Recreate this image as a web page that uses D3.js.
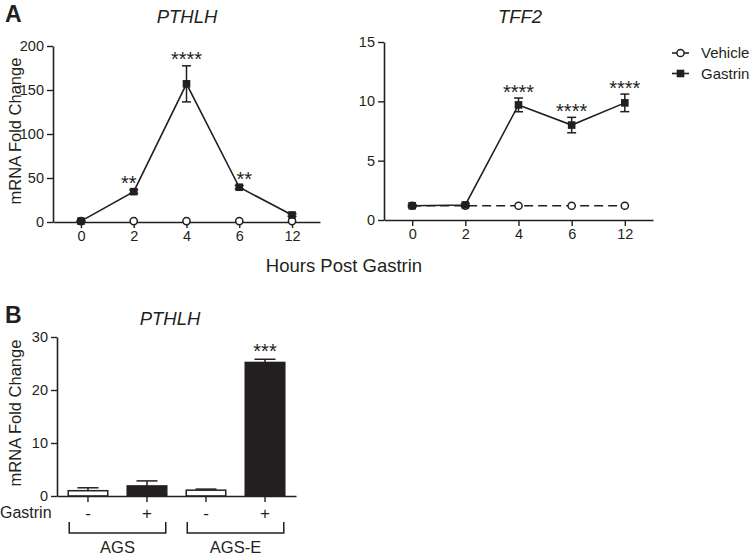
<!DOCTYPE html>
<html><head><meta charset="utf-8">
<script src="https://cdn.jsdelivr.net/npm/d3@7"></script>
<style>
body{margin:0;background:#fff;}
svg{display:block;font-family:"Liberation Sans",Arial,sans-serif;}
</style></head>
<body><svg id="c" width="750" height="559"></svg>
<script>
// ---- data ----
const hours = ["0", "2", "4", "6", "12"];
const pthlhGastrin = [1, 34.5, 157, 39.5, 8];
const pthlhGastrinErr = [0.5, 2, 20.5, 2, 1.5];
const pthlhVehicle = [1, 1, 1, 1, 1];
const pthlhStars = ["", "**", "****", "**", ""];
const pthlhTicks = [0, 50, 100, 150, 200];

const tff2Gastrin = [1.2, 1.27, 9.7, 8.0, 9.87];
const tff2GastrinErr = [0.1, 0.12, 0.58, 0.65, 0.74];
const tff2Vehicle = [1.2, 1.2, 1.2, 1.2, 1.2];
const tff2Stars = ["", "", "****", "****", "****"];
const tff2Ticks = [0, 5, 10, 15];

const barCategories = ["AGS -", "AGS +", "AGS-E -", "AGS-E +"];
const barGastrinSign = ["-", "+", "-", "+"];
const barGroups = ["AGS", "AGS-E"];
const barValues = [1.0, 1.9, 1.1, 25.2];
const barErr = [0.55, 0.95, 0.2, 0.6];
const barStars = ["", "", "", "***"];
const barTicks = [0, 10, 20, 30];

const legendLabels = ["Vehicle", "Gastrin"];

// ---- drawing ----
const ink = "#231f20";
const svg = d3.select("#c");

function styleAxis(g) {
  g.select(".domain").attr("stroke", ink).attr("stroke-width", 1.6);
  g.selectAll(".tick line").attr("stroke", ink).attr("stroke-width", 1.4);
  g.selectAll(".tick text").attr("fill", ink).attr("font-size", 14.5)
    .attr("font-family", "Liberation Sans, Arial, sans-serif");
}

function linePanel(opts) {
  const x = d3.scalePoint().domain(hours).range(opts.xr).padding(0.53);
  const y = d3.scaleLinear().domain(opts.ydom).range(opts.yr);
  const line = d3.line().x((d, i) => x(hours[i])).y(d => y(d));

  // vehicle dashed line (hidden by the axis when it lies on it)
  if (opts.vehicleLine) {
    svg.append("path").datum(opts.vehicle).attr("d", line)
      .attr("fill", "none").attr("stroke", ink).attr("stroke-width", 1.5)
      .attr("stroke-dasharray", "9,5");
  }

  const gy = svg.append("g").attr("transform", `translate(${opts.xr[0]},0)`)
    .call(d3.axisLeft(y).tickValues(opts.ticks).tickSize(6).tickPadding(3).tickSizeOuter(0));
  styleAxis(gy);
  const gx = svg.append("g").attr("transform", `translate(0,${opts.yr[0]})`)
    .call(d3.axisBottom(x).tickSize(6).tickPadding(3).tickSizeOuter(0));
  styleAxis(gx);

  svg.append("g").selectAll("circle").data(opts.vehicle).join("circle")
    .attr("cx", (d, i) => x(hours[i])).attr("cy", d => y(d)).attr("r", 3.6)
    .attr("fill", "#fff").attr("stroke", ink).attr("stroke-width", 1.5);

  // gastrin
  svg.append("path").datum(opts.gastrin).attr("d", line)
    .attr("fill", "none").attr("stroke", ink).attr("stroke-width", 1.6);
  const eb = svg.append("g");
  opts.gastrin.forEach((v, i) => {
    const e = opts.err[i], cx = x(hours[i]);
    eb.append("line").attr("x1", cx).attr("x2", cx).attr("y1", y(v + e)).attr("y2", y(v - e))
      .attr("stroke", ink).attr("stroke-width", 1.5);
    [v + e, v - e].forEach(t => eb.append("line").attr("x1", cx - 4.5).attr("x2", cx + 4.5)
      .attr("y1", y(t)).attr("y2", y(t)).attr("stroke", ink).attr("stroke-width", 1.5));
  });
  svg.append("g").selectAll("rect").data(opts.gastrin).join("rect")
    .attr("x", (d, i) => x(hours[i]) - 3.8).attr("y", d => y(d) - 3.8)
    .attr("width", 7.6).attr("height", 7.6).attr("fill", ink);

  // stars
  svg.append("g").selectAll("text").data(opts.stars).join("text")
    .attr("x", (d, i) => x(hours[i]) + (opts.starDx[hours[i]] || 0))
    .attr("y", (d, i) => y(opts.gastrin[i] + opts.err[i]) + 0.5)
    .attr("text-anchor", "middle").attr("font-size", 20).attr("fill", ink)
    .text(d => d);

  // title
  svg.append("text").attr("x", opts.titleX).attr("y", 23).attr("text-anchor", "middle")
    .attr("font-size", 18.5).attr("font-style", "italic").attr("fill", ink).text(opts.title);
  return {x, y};
}

linePanel({xr: [53, 320], yr: [222, 46], ydom: [0, 200], ticks: pthlhTicks,
  gastrin: pthlhGastrin, err: pthlhGastrinErr, vehicle: pthlhVehicle, stars: pthlhStars,
  starDx: {"2": -5, "6": 5}, title: "PTHLH", titleX: 187, vehicleLine: false});
linePanel({xr: [384, 653], yr: [220, 42], ydom: [0, 15], ticks: tff2Ticks,
  gastrin: tff2Gastrin, err: tff2GastrinErr, vehicle: tff2Vehicle, stars: tff2Stars,
  starDx: {}, title: "TFF2", titleX: 520, vehicleLine: true});

// panel letters
svg.append("text").attr("x", 5).attr("y", 22).attr("font-size", 23).attr("font-weight", "bold")
  .attr("fill", ink).text("A");
svg.append("text").attr("x", 5).attr("y", 323).attr("font-size", 23).attr("font-weight", "bold")
  .attr("fill", ink).text("B");

// axis labels
svg.append("text").attr("transform", "translate(21,131) rotate(-90)").attr("text-anchor", "middle")
  .attr("font-size", 16.5).attr("fill", ink).text("mRNA Fold Change");
svg.append("text").attr("x", 344).attr("y", 272).attr("text-anchor", "middle")
  .attr("font-size", 18.5).attr("fill", ink).text("Hours Post Gastrin");

// legend
const lg = svg.append("g");
legendLabels.forEach((lab, i) => {
  const ly = 53 + i * 20.5;
  lg.append("line").attr("x1", 672).attr("x2", 689).attr("y1", ly).attr("y2", ly)
    .attr("stroke", ink).attr("stroke-width", 1.6);
  if (i === 0) {
    lg.append("circle").attr("cx", 680.5).attr("cy", ly).attr("r", 3.6)
      .attr("fill", "#fff").attr("stroke", ink).attr("stroke-width", 1.5);
  } else {
    lg.append("rect").attr("x", 680.5 - 3.8).attr("y", ly - 3.8).attr("width", 7.6).attr("height", 7.6)
      .attr("fill", ink);
  }
  lg.append("text").attr("x", 701).attr("y", ly + 5.3).attr("font-size", 15).attr("fill", ink).text(lab);
});

// ---- panel B ----
const xb = d3.scaleBand().domain(barCategories).range([57, 296]).paddingInner(0.33).paddingOuter(0.19);
const yb = d3.scaleLinear().domain([0, 30]).range([496, 337]);
const bw = xb.bandwidth();

// bars
svg.append("g").selectAll("rect").data(barValues).join("rect")
  .attr("x", (d, i) => xb(barCategories[i])).attr("y", d => yb(d))
  .attr("width", bw).attr("height", d => yb(0) - yb(d))
  .attr("fill", (d, i) => barGastrinSign[i] === "+" ? ink : "#fff")
  .attr("stroke", ink).attr("stroke-width", 1.5);
// error bars (upper)
const ebb = svg.append("g");
barValues.forEach((v, i) => {
  const cx = xb(barCategories[i]) + bw / 2;
  ebb.append("line").attr("x1", cx).attr("x2", cx).attr("y1", yb(v)).attr("y2", yb(v + barErr[i]))
    .attr("stroke", ink).attr("stroke-width", 1.5);
  ebb.append("line").attr("x1", cx - 10.5).attr("x2", cx + 10.5)
    .attr("y1", yb(v + barErr[i])).attr("y2", yb(v + barErr[i])).attr("stroke", ink).attr("stroke-width", 1.5);
});
svg.append("g").selectAll("text").data(barStars).join("text")
  .attr("x", (d, i) => xb(barCategories[i]) + bw / 2)
  .attr("y", (d, i) => yb(barValues[i] + barErr[i]) - 1)
  .attr("text-anchor", "middle").attr("font-size", 20).attr("fill", ink).text(d => d);

const gyb = svg.append("g").attr("transform", "translate(57,0)")
  .call(d3.axisLeft(yb).tickValues(barTicks).tickSize(6).tickPadding(3).tickSizeOuter(0));
styleAxis(gyb);
const gxb = svg.append("g").attr("transform", `translate(0,${yb(0)})`)
  .call(d3.axisBottom(xb).tickSize(6).tickSizeOuter(0).tickFormat(""));
styleAxis(gxb);

// gastrin row
svg.append("text").attr("x", 0).attr("y", 518).attr("font-size", 16).attr("fill", ink).text("Gastrin");
svg.append("g").selectAll("text").data(barGastrinSign).join("text")
  .attr("x", (d, i) => xb(barCategories[i]) + bw / 2).attr("y", 519)
  .attr("text-anchor", "middle").attr("font-size", 17).attr("fill", ink).text(d => d);

// group brackets
barGroups.forEach((g, gi) => {
  const a = xb(barCategories[gi * 2]) + 1, b = xb(barCategories[gi * 2 + 1]) + bw - 1;
  svg.append("path").attr("d", `M${a},522V533H${b}V522`).attr("fill", "none")
    .attr("stroke", ink).attr("stroke-width", 1.5);
  svg.append("text").attr("x", (a + b) / 2).attr("y", 553).attr("text-anchor", "middle")
    .attr("font-size", 16.5).attr("fill", ink).text(g);
});

svg.append("text").attr("x", 170).attr("y", 325).attr("text-anchor", "middle")
  .attr("font-size", 18.5).attr("font-style", "italic").attr("fill", ink).text("PTHLH");
svg.append("text").attr("transform", "translate(21,413) rotate(-90)").attr("text-anchor", "middle")
  .attr("font-size", 16.5).attr("fill", ink).text("mRNA Fold Change");
</script></body></html>
